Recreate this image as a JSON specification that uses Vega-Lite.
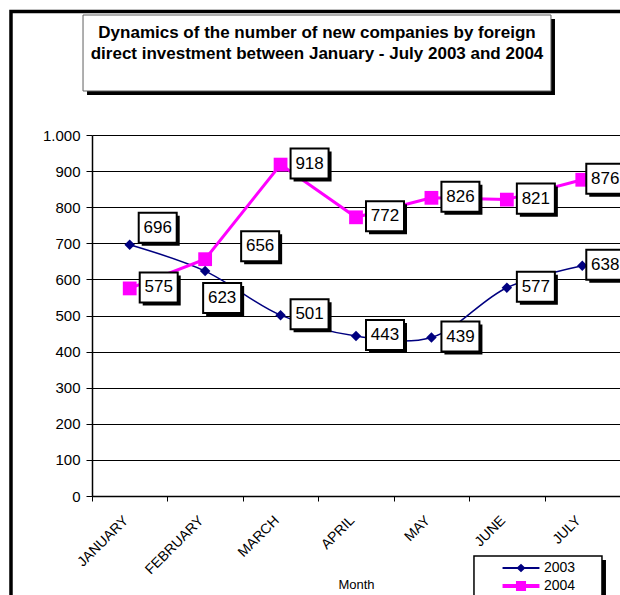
{
  "$schema": "https://vega.github.io/schema/vega-lite/v6.json",
  "width": 528,
  "height": 361,
  "padding": {"left": 92, "top": 135, "right": 0, "bottom": 99},
  "autosize": {"type": "none"},
  "background": "white",
  "config": {"view": {"stroke": null}, "font": "Liberation Sans"},
  "resolve": {"scale": {"x": "independent", "y": "independent"}},
  "layer": [
    {
      "data": {"values": [{}]},
      "layer": [
        {
          "mark": {"type": "rect", "fill": null, "filled": false, "stroke": "black", "strokeWidth": 3.5},
          "encoding": {
            "x": {"datum": -1.074, "type": "quantitative", "scale": {"domain": [0, 7], "nice": false, "zero": false}, "axis": null},
            "x2": {"datum": 8.06},
            "y": {"datum": 1342, "type": "quantitative", "scale": {"domain": [0, 1000], "nice": false, "zero": false}, "axis": null},
            "y2": {"datum": -427}
          }
        },
        {
          "mark": {"type": "rect", "fill": "black", "strokeWidth": 0},
          "encoding": {
            "x": {"datum": -0.066, "type": "quantitative", "scale": {"domain": [0, 7], "nice": false, "zero": false}, "axis": null},
            "x2": {"datum": 6.138},
            "y": {"datum": 1321.3, "type": "quantitative", "scale": {"domain": [0, 1000], "nice": false, "zero": false}, "axis": null},
            "y2": {"datum": 1110.8}
          }
        },
        {
          "mark": {"type": "rect", "fill": "white", "stroke": "#606060", "strokeWidth": 1},
          "encoding": {
            "x": {"datum": -0.119, "type": "quantitative", "scale": {"domain": [0, 7], "nice": false, "zero": false}, "axis": null},
            "x2": {"datum": 6.085},
            "y": {"datum": 1332.4, "type": "quantitative", "scale": {"domain": [0, 1000], "nice": false, "zero": false}, "axis": null},
            "y2": {"datum": 1121.9}
          }
        },
        {
          "mark": {"type": "text", "text": ["Dynamics of the number of new companies by foreign", "direct investment between January - July 2003 and  2004"], "fontSize": 17, "fontWeight": "bold", "lineHeight": 21, "baseline": "middle", "align": "center", "color": "black"},
          "encoding": {
            "x": {"datum": 2.983, "type": "quantitative", "scale": {"domain": [0, 7], "nice": false, "zero": false}, "axis": null},
            "y": {"datum": 1281.2, "type": "quantitative", "scale": {"domain": [0, 1000], "nice": false, "zero": false}, "axis": null}
          }
        },
        {
          "mark": {"type": "rect", "fill": "black", "strokeWidth": 0},
          "encoding": {
            "x": {"datum": 5.117, "type": "quantitative", "scale": {"domain": [0, 7], "nice": false, "zero": false}, "axis": null},
            "x2": {"datum": 6.814},
            "y": {"datum": -177.3, "type": "quantitative", "scale": {"domain": [0, 1000], "nice": false, "zero": false}, "axis": null},
            "y2": {"datum": -343}
          }
        },
        {
          "mark": {"type": "rect", "fill": "white", "stroke": "black", "strokeWidth": 1.5},
          "encoding": {
            "x": {"datum": 5.064, "type": "quantitative", "scale": {"domain": [0, 7], "nice": false, "zero": false}, "axis": null},
            "x2": {"datum": 6.761},
            "y": {"datum": -166.2, "type": "quantitative", "scale": {"domain": [0, 1000], "nice": false, "zero": false}, "axis": null},
            "y2": {"datum": -343}
          }
        }
      ]
    },
    {
      "data": {"values": [
        {"month": "JANUARY", "year": "2003", "value": 696},
        {"month": "FEBRUARY", "year": "2003", "value": 623},
        {"month": "MARCH", "year": "2003", "value": 501},
        {"month": "APRIL", "year": "2003", "value": 443},
        {"month": "MAY", "year": "2003", "value": 439},
        {"month": "JUNE", "year": "2003", "value": 577},
        {"month": "JULY", "year": "2003", "value": 638},
        {"month": "JANUARY", "year": "2004", "value": 575},
        {"month": "FEBRUARY", "year": "2004", "value": 656},
        {"month": "MARCH", "year": "2004", "value": 918},
        {"month": "APRIL", "year": "2004", "value": 772},
        {"month": "MAY", "year": "2004", "value": 826},
        {"month": "JUNE", "year": "2004", "value": 821},
        {"month": "JULY", "year": "2004", "value": 876}
      ]},
      "encoding": {
        "x": {
          "field": "month", "type": "ordinal",
          "sort": ["JANUARY", "FEBRUARY", "MARCH", "APRIL", "MAY", "JUNE", "JULY"],
          "scale": {"type": "band", "domain": ["JANUARY", "FEBRUARY", "MARCH", "APRIL", "MAY", "JUNE", "JULY"], "paddingInner": 0, "paddingOuter": 0},
          "axis": {
            "title": "Month", "titleFontSize": 13, "titleFontWeight": "normal", "titleColor": "black", "titleY": 82, "titleBaseline": "top",
            "tickBand": "extent", "tickColor": "black", "tickSize": 5, "domainColor": "black", "domainWidth": 1.5,
            "labelAngle": -45, "labelAlign": "right", "labelBaseline": "middle", "labelFontSize": 14, "labelColor": "black",
            "labelPadding": 17, "labelOffset": -4, "labelOverlap": false, "labelBound": false, "labelFlush": false, "grid": false
          }
        },
        "y": {
          "field": "value", "type": "quantitative",
          "scale": {"domain": [0, 1000], "nice": false, "zero": false},
          "axis": {
            "title": null, "values": [0, 100, 200, 300, 400, 500, 600, 700, 800, 900, 1000],
            "grid": true, "gridColor": "black", "gridWidth": 1, "domainColor": "black", "domainWidth": 1.5,
            "tickColor": "black", "tickSize": 6, "labelFontSize": 15, "labelPadding": 6, "labelColor": "black",
            "labelExpr": "datum.value == 1000 ? '1.000' : datum.label"
          }
        }
      },
      "layer": [
        {
          "transform": [{"filter": "datum.year == '2003'"}],
          "mark": {"type": "line", "color": "#000080", "strokeWidth": 1.5, "interpolate": "catmull-rom"},
          "encoding": {}
        },
        {
          "transform": [{"filter": "datum.year == '2004'"}],
          "mark": {"type": "line", "color": "#FF00FF", "strokeWidth": 3},
          "encoding": {}
        },
        {
          "transform": [{"filter": "datum.year == '2003'"}],
          "mark": {"type": "point", "shape": "diamond", "filled": true, "size": 110, "color": "#000080", "opacity": 1},
          "encoding": {}
        },
        {
          "transform": [{"filter": "datum.year == '2004'"}],
          "mark": {"type": "point", "shape": "square", "filled": true, "size": 190, "color": "#FF00FF", "opacity": 1},
          "encoding": {}
        },
        {
          "mark": {"type": "point", "filled": true, "size": 324, "opacity": 0},
          "encoding": {
            "color": {
              "field": "year", "type": "nominal",
              "scale": {"domain": ["2003", "2004"], "range": ["#000080", "#FF00FF"]},
              "legend": {
                "orient": "none", "legendX": 419, "legendY": 423, "title": null, "labelFontSize": 14, "labelColor": "black",
                "symbolSize": 324, "labelOffset": 13, "padding": 0, "rowPadding": 0, "zindex": 1, "symbolOpacity": 1
              }
            },
            "shape": {
              "field": "year", "type": "nominal",
              "scale": {"domain": ["2003", "2004"], "range": ["M-2.05,-0.11H2.05V0.11H-2.05ZM0,-0.47L0.5,0L0,0.47L-0.5,0Z", "M-2.05,-0.22H2.05V0.22H-2.05ZM-0.56,-0.56H0.56V0.56H-0.56Z"]},
              "legend": {
                "orient": "none", "legendX": 419, "legendY": 423, "title": null, "labelFontSize": 14, "labelColor": "black",
                "symbolSize": 324, "labelOffset": 13, "padding": 0, "rowPadding": 0, "zindex": 1, "symbolOpacity": 1
              }
            }
          }
        },
        {
          "mark": {
            "type": "point", "shape": "M-1,-0.79H1V0.79H-1Z", "size": 1444, "filled": true, "fill": "black", "strokeWidth": 0, "opacity": 1,
            "xOffset": {"expr": "(datum.year=='2003'&&datum.month=='JANUARY'?28:datum.year=='2003'&&datum.month=='FEBRUARY'?17:datum.year=='2004'&&datum.month=='FEBRUARY'?55:datum.month=='JULY'?23:29)+3"},
            "yOffset": {"expr": "(datum.year=='2003'&&datum.month=='JANUARY'?-17:datum.year=='2003'&&datum.month=='FEBRUARY'?27:datum.year=='2004'&&datum.month=='FEBRUARY'?-13:-1)+3"}
          },
          "encoding": {}
        },
        {
          "mark": {
            "type": "point", "shape": "M-1,-0.79H1V0.79H-1Z", "size": 1444, "filled": true, "fill": "white", "stroke": "black", "strokeWidth": 2, "opacity": 1,
            "xOffset": {"expr": "datum.year=='2003'&&datum.month=='JANUARY'?28:datum.year=='2003'&&datum.month=='FEBRUARY'?17:datum.year=='2004'&&datum.month=='FEBRUARY'?55:datum.month=='JULY'?23:29"},
            "yOffset": {"expr": "datum.year=='2003'&&datum.month=='JANUARY'?-17:datum.year=='2003'&&datum.month=='FEBRUARY'?27:datum.year=='2004'&&datum.month=='FEBRUARY'?-13:-1"}
          },
          "encoding": {}
        },
        {
          "mark": {
            "type": "text", "fontSize": 17, "color": "black", "align": "center", "baseline": "middle",
            "xOffset": {"expr": "datum.year=='2003'&&datum.month=='JANUARY'?28:datum.year=='2003'&&datum.month=='FEBRUARY'?17:datum.year=='2004'&&datum.month=='FEBRUARY'?55:datum.month=='JULY'?23:29"},
            "yOffset": {"expr": "datum.year=='2003'&&datum.month=='JANUARY'?-17:datum.year=='2003'&&datum.month=='FEBRUARY'?27:datum.year=='2004'&&datum.month=='FEBRUARY'?-13:-1"}
          },
          "encoding": {"text": {"field": "value", "type": "quantitative"}}
        }
      ]
    }
  ]
}
